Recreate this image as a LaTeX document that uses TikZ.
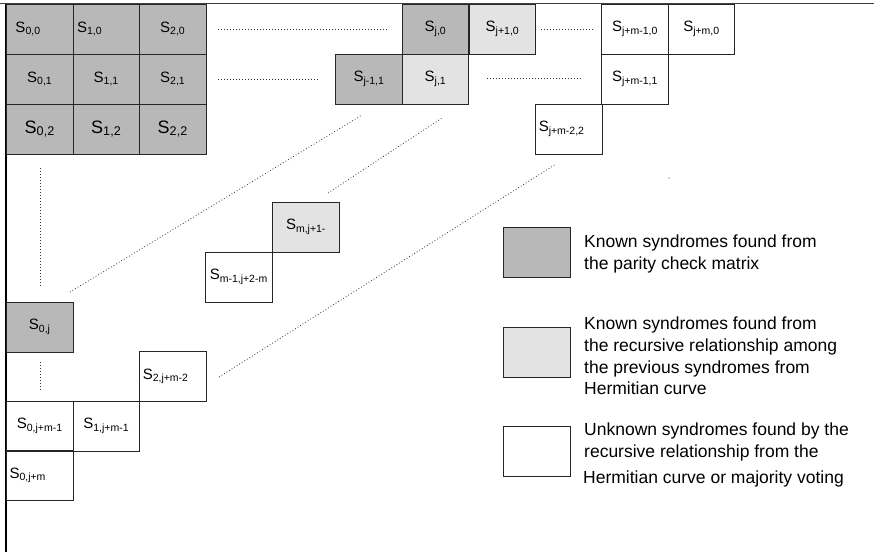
\documentclass[tikz,border=0pt]{standalone}
\usepackage{fontspec}
\setmainfont{Liberation Sans}

\colorlet{known}{black!28}
\colorlet{derived}{black!11}
\newcommand{\syn}[1]{S\textsubscript{#1}}

\begin{document}
\begin{tikzpicture}[x=1pt, y=-1pt,
  cell/.style={draw=black!85, line width=0.9pt, minimum width=66.5pt, minimum height=50pt, inner sep=0pt, font=\fontsize{15}{18}\selectfont},
  lcell/.style={cell, text width=58.5pt, inner xsep=4pt, align=left},
  big/.style={font=\fontsize{18}{21}\selectfont},
  dots/.style={black!80, line width=0.8pt, dash pattern=on 0.8pt off 2.2pt},
  note/.style={anchor=north west, inner sep=0pt, align=left, font=\fontsize{17.5}{21.7}\selectfont}]
  \useasboundingbox (0,0) rectangle (874,552);

  % frame
  \draw[black!75, line width=1.6pt] (0,3.5) -- (874,3.5);
  \draw[line width=1.2pt] (6,3.5) -- (6,552);

  % first three columns
  \node[cell, fill=known, text width=48.5pt, inner xsep=9pt, align=left] (s00) at (39.75,29) {\syn{0,0}};
  \node[lcell, fill=known] (s10) at (106.25,29) {\syn{1,0}};
  \node[cell, fill=known] (s20) at (172.75,29) {\syn{2,0}};
  \node[cell, fill=known] (s01) at (39.75,79) {\syn{0,1}};
  \node[cell, fill=known] (s11) at (106.25,79) {\syn{1,1}};
  \node[cell, fill=known] (s21) at (172.75,79) {\syn{2,1}};
  \node[cell, big, fill=known] (s02) at (39.75,129) {\syn{0,2}};
  \node[cell, big, fill=known] (s12) at (106.25,129) {\syn{1,2}};
  \node[cell, big, fill=known] (s22) at (172.75,129) {\syn{2,2}};

  % top rows, columns j and beyond
  \node[cell, fill=known] (sj0) at (435.5,29) {\syn{j,0}};
  \node[cell, fill=derived] (sjp0) at (502.5,29) {\syn{j+1,0}};
  \node[cell] (sjmm0) at (635,29) {\syn{j+m-1,0}};
  \node[cell] (sjm0) at (701.5,29) {\syn{j+m,0}};
  \node[cell, fill=known] (sjm1) at (369,79) {\syn{j-1,1}};
  \node[cell, fill=derived] (sj1) at (435.5,79) {\syn{j,1}};
  \node[cell] (sjmm1) at (635,79) {\syn{j+m-1,1}};
  \node[lcell, text width=60.5pt, inner xsep=3pt] (sjmm2) at (569,129) {\syn{j+m-2,2}};

  % middle of the diagonal
  \node[cell, fill=derived] (smj) at (306,227) {\syn{m,j+1-}};
  \node[lcell] (smmj) at (239,277) {\syn{m-1,j+2-m}};

  % lower left
  \node[cell, fill=known] (s0j) at (39.75,327) {\syn{0,j}};
  \node[lcell, text width=60.5pt, inner xsep=3pt] (s2jm) at (173,376.5) {\syn{2,j+m-2}};
  \node[cell] (s0jmm) at (39.75,426) {\syn{0,j+m-1}};
  \node[cell] (s1jmm) at (106.25,426) {\syn{1,j+m-1}};
  \node[lcell, text width=60.5pt, inner xsep=3pt] (s0jm) at (39.75,475.5) {\syn{0,j+m}};

  % dotted gaps
  \draw[dots] ([xshift=12pt]s20.east) -- ([xshift=-15pt]sj0.west);
  \draw[dots] ([xshift=5pt]sjp0.east) -- ([xshift=-9pt]sjmm0.west);
  \draw[dots] ([xshift=12pt]s21.east) -- ([xshift=-16pt]sjm1.west);
  \draw[dots] ([xshift=18pt,yshift=1pt]sj1.east) -- ([xshift=-20pt,yshift=1pt]sjmm1.west);
  \draw[dots] ([xshift=1pt,yshift=-14pt]s02.south) -- ([xshift=1pt,yshift=15pt]s0j.north);
  \draw[dots] ([xshift=1pt,yshift=-10pt]s0j.south) -- ([xshift=1pt,yshift=9pt]s0jmm.north);
  \draw[dots] (70,292) -- (362,115);
  \draw[dots] (328,193) -- (442,118);
  \draw[dots] (219,377) -- (556,164);
  \fill[black!70] (669,178) circle (0.6pt);

  % legend
  \node[cell, fill=known] (k1) at (537,252) {};
  \node[cell, fill=derived] (k2) at (537,352) {};
  \node[cell] (k3) at (537,451) {};
  \node[note] (t1) at (584,235) {Known syndromes found from\\the parity check matrix};
  \node[note] (t2) at (584,317) {Known syndromes found from\\the recursive relationship among\\the previous syndromes from\\Hermitian curve};
  \node[note] (t3) at (584,423) {Unknown syndromes found by the\\recursive relationship from the\\[4pt]\hspace{-1pt}Hermitian curve or majority voting};
\end{tikzpicture}
\end{document}
